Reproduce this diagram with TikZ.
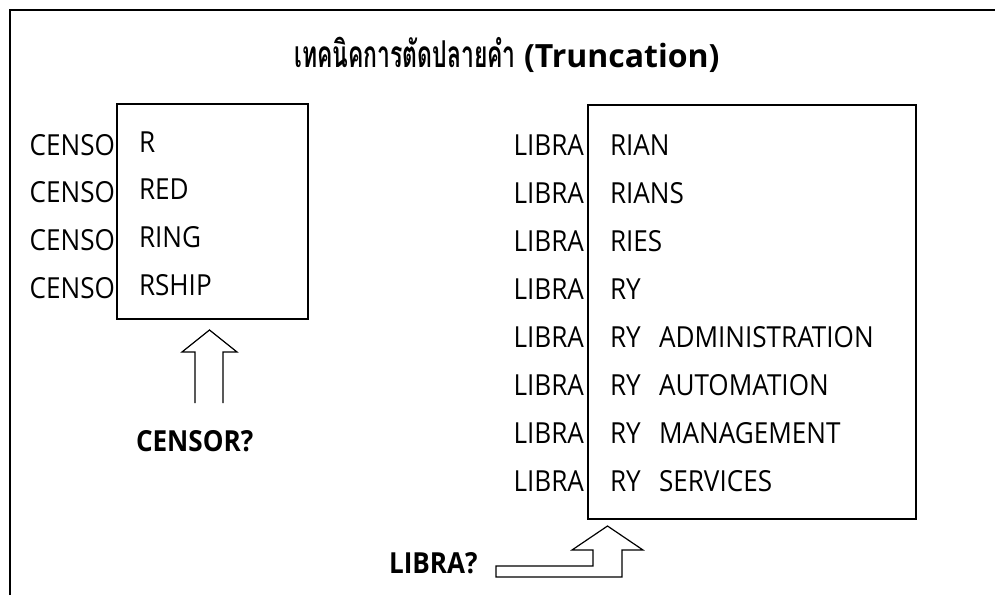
\documentclass[tikz,border=0pt]{standalone}
\usepackage{fontspec}
\setmainfont[FakeStretch=0.9]{Open Sans}
\newfontfamily\titlefont{Open Sans}
\newfontfamily\thaifont[Script=Thai, FakeStretch=0.62]{Loma}
\begin{document}
\begin{tikzpicture}[x=1pt,y=-1pt,
  every node/.style={inner sep=0pt, outer sep=0pt},
  lbl/.style={font=\fontsize{29}{32}\selectfont},
  blbl/.style={font=\fontsize{29}{32}\selectfont\bfseries},
  frameline/.style={line width=1.5pt},
  boxline/.style={line width=1.3pt},
  blockarrow/.style={line width=1.2pt, line join=miter}]
\useasboundingbox (0,0) rectangle (995,595);
% outer frame (open right and bottom)
\draw[frameline] (10,595) -- (10,10) -- (995,10);
% title
\node[font=\fontsize{32}{36}\selectfont\titlefont\bfseries, anchor=base] (title) at (507,67)
  {{\fontsize{37}{40}\selectfont\thaifont\bfseries เทคนิคการตัดปลายคำ} (Truncation)};
% left box
\draw[boxline] (117,104) rectangle (308,319);
\foreach \s [count=\i from 0] in {R,RED,RING,RSHIP} {
  \node[lbl, anchor=base east] (cl\i) at (115,{155+47.7*\i}) {CENSO};
  \node[lbl, anchor=base west] (cs\i) at (139,{152+47.7*\i}) {\s};
}
% right box
\draw[boxline] (588,105) rectangle (916,519);
\foreach \s [count=\i from 0] in {RIAN,RIANS,RIES,RY,RY,RY,RY,RY} {
  \node[lbl, anchor=base east] (ll\i) at (584,{155+48.1*\i}) {LIBRA};
  \node[lbl, anchor=base west] (ls\i) at (610,{155+48.1*\i}) {\s};
}
\foreach \w [count=\i from 4] in {ADMINISTRATION,AUTOMATION,MANAGEMENT,SERVICES} {
  \node[lbl, anchor=base west] (lw\i) at (659,{155+48.1*\i}) {\w};
}
% censor arrow (open at bottom)
\draw[blockarrow] (195,403) -- (195,352) -- (182,352) -- (209.5,330) -- (237,352) -- (223,352) -- (223,403);
\node[blbl, anchor=base west] (censorq) at (136,451) {CENSOR?};
% libra bent arrow
\draw[blockarrow] (496,566) -- (593,566) -- (593,550) -- (572,550) -- (607.5,526) -- (643,550) -- (622,550) -- (622,577) -- (496,577) -- cycle;
\node[blbl, anchor=base west] (libraq) at (389,573) {LIBRA?};
\end{tikzpicture}
\end{document}
